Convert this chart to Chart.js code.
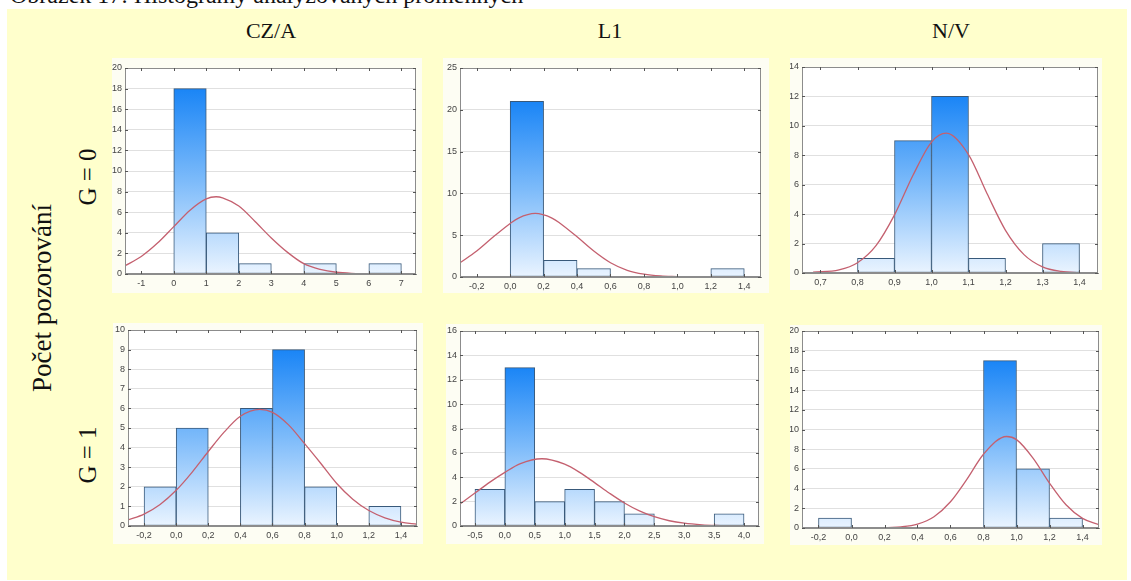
<!DOCTYPE html>
<html><head><meta charset="utf-8">
<script src="https://cdn.jsdelivr.net/npm/chart.js@4.4.0/dist/chart.umd.min.js"></script>
<style>
html,body{margin:0;padding:0;background:#fff;width:1131px;height:581px;overflow:hidden;position:relative;font-family:"Liberation Serif","Times New Roman",serif;}
#bg{position:absolute;left:7px;top:9px;width:1120px;height:571px;background:#FFFFCC;}
.lbl{position:absolute;font-size:22px;line-height:22px;color:#111;white-space:nowrap;transform:translate(-50%,-50%);}
.rot{transform:translate(-50%,-50%) rotate(-90deg);}
.panel{position:absolute;}
</style></head><body>
<div style="position:absolute;left:10px;top:-17px;font-size:24px;line-height:24px;white-space:nowrap;color:#111">Obrázek 17: Histogramy analyzovaných proměnných</div>
<div id="bg"></div>
<div class="lbl" style="left:271px;top:31px">CZ/A</div>
<div class="lbl" style="left:610px;top:31px">L1</div>
<div class="lbl" style="left:951px;top:31px">N/V</div>
<div class="lbl rot" style="left:88px;top:177px;font-size:25px">G = 0</div>
<div class="lbl rot" style="left:88px;top:455px;font-size:25px">G = 1</div>
<div class="lbl rot" style="left:42px;top:298px;font-size:27px">Počet pozorování</div>
<canvas id="c0" class="panel"></canvas>
<canvas id="c1" class="panel"></canvas>
<canvas id="c2" class="panel"></canvas>
<canvas id="c3" class="panel"></canvas>
<canvas id="c4" class="panel"></canvas>
<canvas id="c5" class="panel"></canvas>
<script>
// ---- DATA ----
// CZ/A, G = 0
const czaG0Bins   = [0.5, 1.5, 2.5, 3.5, 4.5, 5.5, 6.5];
const czaG0Counts = [18, 4, 1, 0, 1, 0, 1];
const czaG0CurveX = [-1.5, -1, -0.5, 0, 0.5, 1, 1.3, 1.5, 2, 2.5, 3, 3.5, 4, 4.5, 5, 5.7];
const czaG0CurveY = [0.8, 1.7, 3.0, 4.6, 6.2, 7.3, 7.5, 7.4, 6.6, 5.1, 3.5, 2.1, 1.0, 0.45, 0.17, 0.03];
const czaG0XTicks = [-1, 0, 1, 2, 3, 4, 5, 6, 7];
const czaG0YTicks = [0, 2, 4, 6, 8, 10, 12, 14, 16, 18, 20];
// L1, G = 0
const l1G0Bins   = [0.1, 0.3, 0.5, 0.7, 0.9, 1.1, 1.3];
const l1G0Counts = [21, 2, 1, 0, 0, 0, 1];
const l1G0CurveX = [-0.3, -0.2, -0.1, 0, 0.05, 0.15, 0.25, 0.3, 0.4, 0.5, 0.6, 0.7, 0.8, 0.9, 1.0];
const l1G0CurveY = [1.7, 3.1, 4.8, 6.4, 7.05, 7.6, 7.05, 6.4, 4.8, 3.1, 1.7, 0.8, 0.34, 0.12, 0.04];
const l1G0XTicks = [-0.2, 0, 0.2, 0.4, 0.6, 0.8, 1.0, 1.2, 1.4];
const l1G0YTicks = [0, 5, 10, 15, 20, 25];
// N/V, G = 0
const nvG0Bins   = [0.85, 0.95, 1.05, 1.15, 1.25, 1.35];
const nvG0Counts = [1, 9, 12, 1, 0, 2];
const nvG0CurveX = [0.68, 0.75, 0.8, 0.85, 0.9, 0.95, 1.0, 1.04, 1.1, 1.15, 1.2, 1.25, 1.3, 1.35, 1.4];
const nvG0CurveY = [0.05, 0.21, 0.7, 1.86, 3.95, 6.64, 8.9, 9.5, 8.05, 5.4, 2.9, 1.25, 0.42, 0.11, 0.02];
const nvG0XTicks = [0.7, 0.8, 0.9, 1.0, 1.1, 1.2, 1.3, 1.4];
const nvG0YTicks = [0, 2, 4, 6, 8, 10, 12, 14];
// CZ/A, G = 1
const czaG1Bins   = [-0.1, 0.1, 0.3, 0.5, 0.7, 0.9, 1.1, 1.3];
const czaG1Counts = [2, 5, 0, 6, 9, 2, 0, 1];
const czaG1CurveX = [-0.3, -0.2, -0.1, 0, 0.1, 0.2, 0.3, 0.4, 0.52, 0.6, 0.7, 0.8, 0.9, 1.0, 1.1, 1.2, 1.3, 1.4, 1.5];
const czaG1CurveY = [0.31, 0.61, 1.1, 1.82, 2.75, 3.8, 4.8, 5.6, 5.95, 5.8, 5.16, 4.2, 3.2, 2.17, 1.37, 0.79, 0.42, 0.2, 0.09];
const czaG1XTicks = [-0.2, 0, 0.2, 0.4, 0.6, 0.8, 1.0, 1.2, 1.4];
const czaG1YTicks = [0, 1, 2, 3, 4, 5, 6, 7, 8, 9, 10];
// L1, G = 1
const l1G1Bins   = [-0.25, 0.25, 0.75, 1.25, 1.75, 2.25, 2.75, 3.25, 3.75];
const l1G1Counts = [3, 13, 2, 3, 2, 1, 0, 0, 1];
const l1G1CurveX = [-0.75, -0.5, -0.25, 0, 0.25, 0.62, 1.0, 1.25, 1.5, 1.75, 2.0, 2.25, 2.5, 2.75, 3.0, 3.3, 3.65];
const l1G1CurveY = [1.8, 2.7, 3.6, 4.4, 5.1, 5.52, 5.07, 4.4, 3.56, 2.69, 1.89, 1.24, 0.76, 0.43, 0.23, 0.1, 0.02];
const l1G1XTicks = [-0.5, 0, 0.5, 1.0, 1.5, 2.0, 2.5, 3.0, 3.5, 4.0];
const l1G1YTicks = [0, 2, 4, 6, 8, 10, 12, 14, 16];
// N/V, G = 1
const nvG1Bins   = [-0.1, 0.1, 0.3, 0.5, 0.7, 0.9, 1.1, 1.3];
const nvG1Counts = [1, 0, 0, 0, 0, 17, 6, 1];
const nvG1CurveX = [0.22, 0.3, 0.4, 0.5, 0.6, 0.7, 0.8, 0.94, 1.0, 1.1, 1.2, 1.3, 1.4, 1.5];
const nvG1CurveY = [0.035, 0.11, 0.4, 1.15, 2.66, 4.96, 7.49, 9.29, 8.97, 7.1, 4.56, 2.36, 0.98, 0.33];
const nvG1XTicks = [-0.2, 0, 0.2, 0.4, 0.6, 0.8, 1.0, 1.2, 1.4];
const nvG1YTicks = [0, 2, 4, 6, 8, 10, 12, 14, 16, 18, 20];

// ---- LAYOUT (panel picture box and plot box, in page px) ----
const panels = [
  {id:'c0', box:[112,58,310,235], plot:[125,68,416,274], xr:[-1.5,7.45], dec:0, bins:czaG0Bins, counts:czaG0Counts, cx:czaG0CurveX, cy:czaG0CurveY, xt:czaG0XTicks, yt:czaG0YTicks},
  {id:'c1', box:[443,58,326,235], plot:[460,68,761,277], xr:[-0.3,1.5], dec:1, bins:l1G0Bins, counts:l1G0Counts, cx:l1G0CurveX, cy:l1G0CurveY, xt:l1G0XTicks, yt:l1G0YTicks},
  {id:'c2', box:[790,58,312,232], plot:[802,67,1098,273], xr:[0.65,1.45], dec:1, bins:nvG0Bins, counts:nvG0Counts, cx:nvG0CurveX, cy:nvG0CurveY, xt:nvG0XTicks, yt:nvG0YTicks},
  {id:'c3', box:[113,323,310,221], plot:[128,330,417,526], xr:[-0.3,1.5], dec:1, bins:czaG1Bins, counts:czaG1Counts, cx:czaG1CurveX, cy:czaG1CurveY, xt:czaG1XTicks, yt:czaG1YTicks},
  {id:'c4', box:[446,324,318,220], plot:[460,331,759,526], xr:[-0.75,4.25], dec:1, bins:l1G1Bins, counts:l1G1Counts, cx:l1G1CurveX, cy:l1G1CurveY, xt:l1G1XTicks, yt:l1G1YTicks},
  {id:'c5', box:[790,325,312,220], plot:[802,331,1099,528], xr:[-0.3,1.5], dec:1, bins:nvG1Bins, counts:nvG1Counts, cx:nvG1CurveX, cy:nvG1CurveY, xt:nvG1XTicks, yt:nvG1YTicks}
];

const framePlugin = {
  id:'frame',
  beforeDraw(chart){
    const c = chart.ctx, a = chart.chartArea;
    c.save();
    c.fillStyle = '#FDFDF3';
    c.fillRect(0,0,chart.width,chart.height);
    c.fillStyle = '#FFFFFF';
    c.fillRect(a.left,a.top,a.right-a.left,a.bottom-a.top);
    c.restore();
  },
  afterDraw(chart){
    const c = chart.ctx, a = chart.chartArea;
    c.save();
    c.strokeStyle = '#8c8c8c';
    c.lineWidth = 1;
    c.strokeRect(Math.round(a.left)+0.5, Math.round(a.top)+0.5, Math.round(a.right-a.left)-1, Math.round(a.bottom-a.top)-1);
    c.strokeStyle = '#555';
    c.beginPath();
    chart.scales.x.ticks.forEach(t=>{
      const px = Math.round(chart.scales.x.getPixelForValue(t.value))+0.5;
      c.moveTo(px,a.top); c.lineTo(px,a.top+3);
      c.moveTo(px,a.bottom); c.lineTo(px,a.bottom-3);
    });
    chart.scales.y.ticks.forEach(t=>{
      const py = Math.round(chart.scales.y.getPixelForValue(t.value))+0.5;
      c.moveTo(a.left,py); c.lineTo(a.left+3,py);
      c.moveTo(a.right,py); c.lineTo(a.right-3,py);
    });
    c.stroke();
    c.restore();
  }
};

const fmt = (v,d)=> (Math.abs(v)<1e-9?0:v).toFixed(d).replace('.',',');

panels.forEach(p=>{
  const cv = document.getElementById(p.id);
  const [bl,bt,bw,bh] = p.box;
  const [pl,pt,pr,pb] = p.plot;
  cv.style.left = bl+'px'; cv.style.top = bt+'px';
  cv.width = bw; cv.height = bh;
  cv.style.width = bw+'px'; cv.style.height = bh+'px';
  const maxCount = Math.max(...p.counts);
  const yMax = p.yt[p.yt.length-1];
  new Chart(cv, {
    type:'bar',
    data:{
      datasets:[
        {type:'line', order:0, data:p.cx.map((x,i)=>({x, y:p.cy[i]})), borderColor:'#C4606F', borderWidth:1.3,
         pointRadius:0, cubicInterpolationMode:'monotone', fill:false},
        {type:'bar', order:1, data:p.bins.map((x,i)=>({x, y:p.counts[i]})),
         barPercentage:1, categoryPercentage:1, borderWidth:1, borderColor:'#38597A', borderSkipped:false,
         backgroundColor:(ctx)=>{
           const ch = ctx.chart, a = ch.chartArea;
           if(!a) return '#7fbfff';
           const top = ch.scales.y.getPixelForValue(maxCount);
           const g = ch.ctx.createLinearGradient(0, top, 0, a.bottom);
           g.addColorStop(0, '#1A85F6');
           g.addColorStop(0.5, '#7DBBFA');
           g.addColorStop(1, '#EAF4FF');
           return g;
         }}
      ]
    },
    options:{
      responsive:false, animation:false, devicePixelRatio:1,
      layout:{padding:{left:0, top:pt-bt, right:(bl+bw)-pr, bottom:0}},
      plugins:{legend:{display:false}, tooltip:{enabled:false}},
      scales:{
        x:{type:'linear', offset:false, min:p.xr[0], max:p.xr[1],
           afterBuildTicks:s=>{ s.ticks = p.xt.map(v=>({value:v})); },
           afterFit:s=>{ s.height = (bt+bh)-pb; s.paddingLeft = 0; s.paddingRight = 0; },
           grid:{display:false, drawTicks:false, tickLength:0, offset:false}, border:{color:'#8c8c8c'},
           ticks:{autoSkip:false, maxRotation:0, minRotation:0, padding:4, color:'#444',
                  font:{family:'Liberation Sans', size:9},
                  callback:(v)=>fmt(v,p.dec)}},
        y:{type:'linear', min:0, max:yMax,
           afterBuildTicks:s=>{ s.ticks = p.yt.map(v=>({value:v})); },
           afterFit:s=>{ s.width = pl-bl; s.paddingTop = 0; s.paddingBottom = 0; },
           grid:{color:'#E0E0E0', drawTicks:false, tickLength:0}, border:{display:false},
           ticks:{autoSkip:false, padding:3, color:'#444',
                  font:{family:'Liberation Sans', size:9},
                  callback:(v)=>String(v)}}
      }
    },
    plugins:[framePlugin]
  });
});
</script>
</body></html>
